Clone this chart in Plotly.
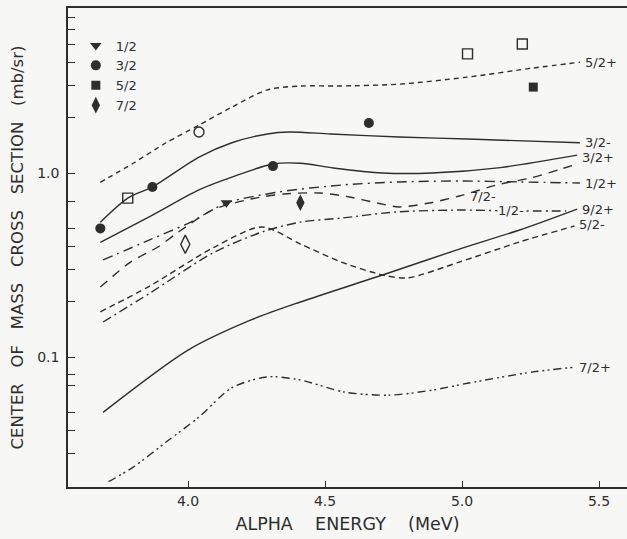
import plotly.graph_objects as go
import numpy as np

# ---------------- data ----------------
# theoretical curves: alpha energy (MeV) and c.m. cross section (mb/sr)
E_52p = [3.68, 3.80, 3.92, 4.04, 4.16, 4.29, 4.41, 4.55, 4.77, 5.02, 5.26, 5.43]
S_52p = [0.89, 1.13, 1.46, 1.82, 2.28, 2.83, 2.97, 2.97, 3.04, 3.32, 3.72, 4.00]

E_32m = [3.68, 3.78, 3.87, 4.04, 4.16, 4.29, 4.37, 4.52, 4.77, 5.02, 5.43]
S_32m = [0.54, 0.73, 0.84, 1.22, 1.46, 1.63, 1.67, 1.63, 1.57, 1.53, 1.46]

E_32p = [3.68, 3.86, 4.04, 4.16, 4.31, 4.41, 4.53, 4.71, 4.89, 5.14, 5.42]
S_32p = [0.42, 0.58, 0.81, 0.95, 1.12, 1.13, 1.065, 1.00, 1.00, 1.07, 1.25]

E_12p = [3.69, 3.86, 4.01, 4.14, 4.33, 4.56, 4.77, 4.99, 5.21, 5.43]
S_12p = [0.337, 0.433, 0.541, 0.687, 0.788, 0.86, 0.894, 0.905, 0.894, 0.882]

E_72m = [3.68, 3.79, 3.89, 3.96, 4.09, 4.23, 4.35, 4.48, 4.59, 4.69, 4.77, 4.88, 4.99, 5.14, 5.25, 5.36, 5.42]
S_72m = [0.24, 0.328, 0.396, 0.472, 0.63, 0.722, 0.769, 0.778, 0.74, 0.687, 0.654, 0.687, 0.75, 0.871, 0.939, 1.05, 1.12]

E_12m = [3.69, 3.86, 4.09, 4.27, 4.41, 4.56, 4.76, 4.99, 5.18, 5.38]
S_12m = [0.155, 0.222, 0.367, 0.478, 0.541, 0.569, 0.614, 0.629, 0.622, 0.622]

E_52m = [3.68, 3.86, 4.09, 4.27, 4.41, 4.56, 4.71, 4.80, 4.99, 5.21, 5.41]
S_52m = [0.176, 0.243, 0.391, 0.509, 0.411, 0.328, 0.279, 0.269, 0.328, 0.422, 0.515]

E_92p = [3.69, 4.00, 4.23, 4.41, 4.71, 4.99, 5.21, 5.42]
S_92p = [0.050, 0.109, 0.159, 0.199, 0.279, 0.386, 0.49, 0.637]

E_72p = [3.71, 3.80, 3.92, 4.04, 4.16, 4.29, 4.41, 4.57, 4.73, 4.89, 5.02, 5.26, 5.41]
S_72p = [0.021, 0.0252, 0.0345, 0.0472, 0.068, 0.078, 0.075, 0.0645, 0.062, 0.066, 0.072, 0.083, 0.088]

# experimental points (filled symbols, by spin)
E_J12 = [4.14]; S_J12 = [0.69]
E_J32 = [3.68, 3.87, 4.31, 4.66]; S_J32 = [0.50, 0.84, 1.09, 1.87]
E_J52 = [5.26]; S_J52 = [2.93]
E_J72 = [4.41]; S_J72 = [0.69]
# open symbols
E_osq = [3.78, 5.02, 5.22]; S_osq = [0.73, 4.44, 5.02]
E_oci = [4.04]; S_oci = [1.67]
E_odi = [3.99]; S_odi = [0.41]

# axis ticks
x_ticks = [4.0, 4.5, 5.0, 5.5]
x_ticktext = ["4.0", "4.5", "5.0", "5.5"]
y_ticks = [0.03, 0.04, 0.05, 0.07, 0.08, 0.1, 0.2, 0.3, 0.4, 0.5, 0.7, 1.0, 2, 3, 4, 5, 6, 7]
y_ticktext = ["" if v not in (0.1, 1.0) else ("1.0" if v == 1.0 else "0.1") for v in y_ticks]

# ---------------- figure ----------------
INK = "#2e2e2e"
BG = "#f7f7f5"
FONT = "DejaVu Sans"
NB = "\u00a0"

curves = [
    ("5/2+", E_52p, S_52p, "5px,4px", 0),
    ("3/2-", E_32m, S_32m, "solid", 0),
    ("3/2+", E_32p, S_32p, "solid", -2),
    ("1/2+", E_12p, S_12p, "10px,5px,2px,5px", 0),
    ("7/2-", E_72m, S_72m, "9px,7px", None),
    ("1/2-", E_12m, S_12m, "9px,4px,2px,4px", None),
    ("9/2+", E_92p, S_92p, "solid", 0),
    ("5/2-", E_52m, S_52m, "6px,4px", 2),
    ("7/2+", E_72p, S_72p, "8px,4px,2px,3px,2px,4px", 0),
]

fig = go.Figure()
for name, xs, ys, dash, _ in curves:
    fig.add_trace(go.Scatter(x=xs, y=ys, mode="lines", name=name, showlegend=False,
                             line=dict(color=INK, width=1.4, dash=dash, shape="spline", smoothing=0.8),
                             hoverinfo="skip"))

pts = [
    ("1/2", E_J12, S_J12, "triangle-down", 10, True),
    ("3/2", E_J32, S_J32, "circle", 10, True),
    ("5/2", E_J52, S_J52, "square", 9, True),
    ("7/2", E_J72, S_J72, "diamond-tall", 12, True),
]
for name, xs, ys, sym, size, leg in pts:
    fig.add_trace(go.Scatter(x=xs, y=ys, mode="markers", name=name, showlegend=leg,
                             marker=dict(symbol=sym, size=size, color=INK, line=dict(width=0))))
for xs, ys, sym, size in [(E_osq, S_osq, "square-open", 10), (E_oci, S_oci, "circle-open", 10),
                          (E_odi, S_odi, "diamond-tall-open", 13)]:
    fig.add_trace(go.Scatter(x=xs, y=ys, mode="markers", showlegend=False,
                             marker=dict(symbol=sym, size=size, color=INK, line=dict(width=1.4, color=INK))))

annotations = []
for name, xs, ys, dash, yshift in curves:
    if yshift is None:
        continue
    annotations.append(dict(x=xs[-1], y=np.log10(ys[-1]), text=name, showarrow=False,
                            xanchor="left", yanchor="middle", xshift=3, yshift=yshift,
                            font=dict(family=FONT, size=13, color=INK)))
# labels sitting on curves in the middle
lx = 5.18
annotations.append(dict(x=lx, y=float(np.log10(np.interp(lx, E_12m, S_12m))), text="1/2-",
                        showarrow=False, bgcolor=BG, borderpad=0,
                        font=dict(family=FONT, size=13, color=INK)))
lx2 = 5.075
annotations.append(dict(x=lx2, y=float(np.log10(np.interp(lx2, E_72m, S_72m))), text="7/2-",
                        showarrow=False, yshift=-7,
                        font=dict(family=FONT, size=13, color=INK)))

fig.update_layout(
    width=627, height=539,
    margin=dict(l=68, r=0, t=8, b=52, autoexpand=False),
    paper_bgcolor=BG, plot_bgcolor=BG,
    font=dict(family=FONT, color=INK, size=13),
    showlegend=True,
    legend=dict(x=0.014, y=0.953, xanchor="left", yanchor="top", bgcolor="rgba(0,0,0,0)",
                font=dict(family=FONT, size=13, color=INK), itemwidth=30, tracegroupgap=0),
    annotations=annotations,
)
fig.update_xaxes(range=[3.562, 5.602], tickvals=x_ticks, ticktext=x_ticktext, automargin=False,
                 ticks="inside", ticklen=6, tickwidth=1.3, tickcolor=INK,
                 showline=True, linecolor=INK, linewidth=1.5, mirror=True,
                 showgrid=False, zeroline=False,
                 tickfont=dict(family=FONT, size=14, color=INK),
                 title=dict(text=f"{NB*3}ALPHA{NB*4}ENERGY{NB*4}(MeV)", standoff=10,
                            font=dict(family=FONT, size=17.5, color=INK)))
fig.update_yaxes(type="log", range=[-1.7065, 0.8967], tickvals=y_ticks, ticktext=y_ticktext,
                 automargin=False,
                 ticks="inside", ticklen=7, tickwidth=1.3, tickcolor=INK,
                 showline=True, linecolor=INK, linewidth=1.5, mirror=False,
                 showgrid=False, zeroline=False, ticklabelstandoff=4,
                 tickfont=dict(family=FONT, size=14, color=INK),
                 title=dict(text=f"CENTER{NB*3}OF{NB*3}MASS{NB*3}CROSS{NB*3}SECTION{NB*3}(mb/sr)",
                            standoff=9, font=dict(family=FONT, size=16.5, color=INK)))

fig.write_html("out.html", config={"displayModeBar": False},
               post_script="document.body.style.margin='0';document.body.style.padding='0';"
                           "document.documentElement.style.overflow='hidden';")
